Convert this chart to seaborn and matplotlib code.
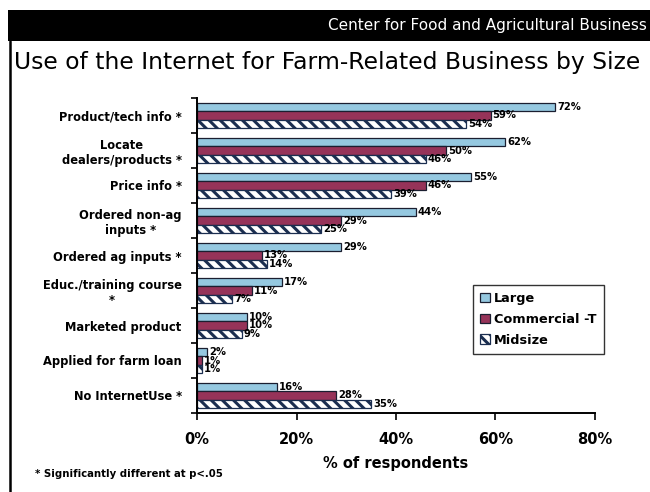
import matplotlib
matplotlib.use("Agg")
import matplotlib.pyplot as plt
from matplotlib.patches import Rectangle, Patch
from matplotlib.lines import Line2D
import seaborn as sns
import pandas as pd

# Survey results: share of respondents by farm size
categories = [
    "Product/tech info *",
    "Locate\ndealers/products *",
    "Price info *",
    "Ordered non-ag\ninputs *",
    "Ordered ag inputs *",
    "Educ./training course\n*",
    "Marketed product",
    "Applied for farm loan",
    "No InternetUse *",
]
series = ["Large", "Commercial -T", "Midsize"]
large = [72, 62, 55, 44, 29, 17, 10, 2, 16]
commercial = [59, 50, 46, 29, 13, 11, 10, 1, 28]
midsize = [54, 46, 39, 25, 14, 7, 9, 1, 35]
x_ticks = [0, 20, 40, 60, 80]

colors = {"Large": "#95C8E0", "Commercial -T": "#963359", "Midsize": "#FFFFFF"}
edge = "#1A1E30"
hatch_col = "#1B2E50"
stripes = "\\\\\\"

df = pd.DataFrame({
    "category": categories * 3,
    "group": [s for s in series for _ in categories],
    "value": large + commercial + midsize,
})

sns.set_theme(style="ticks")
plt.rcParams["font.family"] = ["DejaVu Sans"]
plt.rcParams["text.color"] = "black"
plt.rcParams["xtick.color"] = "black"
plt.rcParams["ytick.color"] = "black"
plt.rcParams["axes.labelcolor"] = "black"
plt.rcParams["hatch.linewidth"] = 2.2
plt.rcParams["hatch.color"] = hatch_col

W, H = 650, 492
fig = plt.figure(figsize=(W / 100, H / 100), dpi=100)
fig.patch.set_facecolor("white")

def fx(px):
    return px / W

def fy(py):
    return 1 - py / H

ax = fig.add_axes([fx(197), fy(413), fx(595) - fx(197), fy(98) - fy(413)])

sns.barplot(
    data=df, y="category", x="value", hue="group", order=categories,
    hue_order=series, palette=colors, orient="h", width=0.72,
    edgecolor=edge, linewidth=0.9, saturation=1, legend=False, ax=ax,
)

# hatched midsize bars
for bar in ax.containers[2]:
    bar.set_hatch(stripes)
    bar.set_edgecolor(hatch_col)

for cont in ax.containers:
    ax.bar_label(cont, fmt="%d%%", padding=1.5, fontsize=7.2,
                 fontweight="bold", color="black")

ax.set_xlim(0, 80)
ax.set_ylim(len(categories) - 0.5, -0.5)
ax.set_xticks(x_ticks)
ax.set_xticklabels([f"{t}%" for t in x_ticks], fontsize=10.5, fontweight="bold")
ax.set_xlabel("% of respondents", fontsize=10.5, fontweight="bold", labelpad=6)
ax.set_ylabel("")
ax.tick_params(axis="x", direction="out", length=5, width=1.2, pad=9)
ax.tick_params(axis="y", which="major", length=0, pad=11)
ax.set_yticks([i + 0.5 for i in range(-1, len(categories))], minor=True)
ax.tick_params(axis="y", which="minor", direction="out", length=4, width=1.2)
for lab in ax.get_yticklabels():
    lab.set_fontsize(8.3)
    lab.set_fontweight("bold")
    lab.set_multialignment("center")

sns.despine(ax=ax, top=True, right=True)
for side in ("left", "bottom"):
    ax.spines[side].set_color("black")
    ax.spines[side].set_linewidth(1.4)

handles = [
    Patch(facecolor=colors["Large"], edgecolor=edge, linewidth=0.9),
    Patch(facecolor=colors["Commercial -T"], edgecolor=edge, linewidth=0.9),
    Patch(facecolor="white", edgecolor=hatch_col, hatch=stripes, linewidth=0.9),
]
leg = fig.legend(
    handles, series, loc="upper left", bbox_to_anchor=(fx(473), fy(285)),
    borderaxespad=0, frameon=True, fancybox=False, edgecolor="black",
    handlelength=0.75, handleheight=0.75, handletextpad=0.35,
    labelspacing=0.6, borderpad=0.55,
    prop={"weight": "bold", "size": 9.3},
)
leg.get_frame().set_linewidth(1.0)

# header band and page frame
fig.add_artist(Rectangle((fx(8), fy(41)), 1 - fx(8), fy(10) - fy(41),
                         transform=fig.transFigure, facecolor="black",
                         edgecolor="none"))
fig.add_artist(Line2D([fx(9.5), fx(9.5)], [0, fy(41)], transform=fig.transFigure,
                      color="black", linewidth=1.8))
fig.text(fx(647), fy(25.5), "Center for Food and Agricultural Business",
         color="white", fontsize=11, ha="right", va="center")
fig.text(fx(14), fy(62), "Use of the Internet for Farm-Related Business by Size",
         color="black", fontsize=16.9, ha="left", va="center")
fig.text(fx(35), fy(474), "* Significantly different at p<.05",
         fontsize=7.3, fontweight="bold", ha="left", va="center")

fig.savefig("out.png", dpi=100, facecolor="white")
